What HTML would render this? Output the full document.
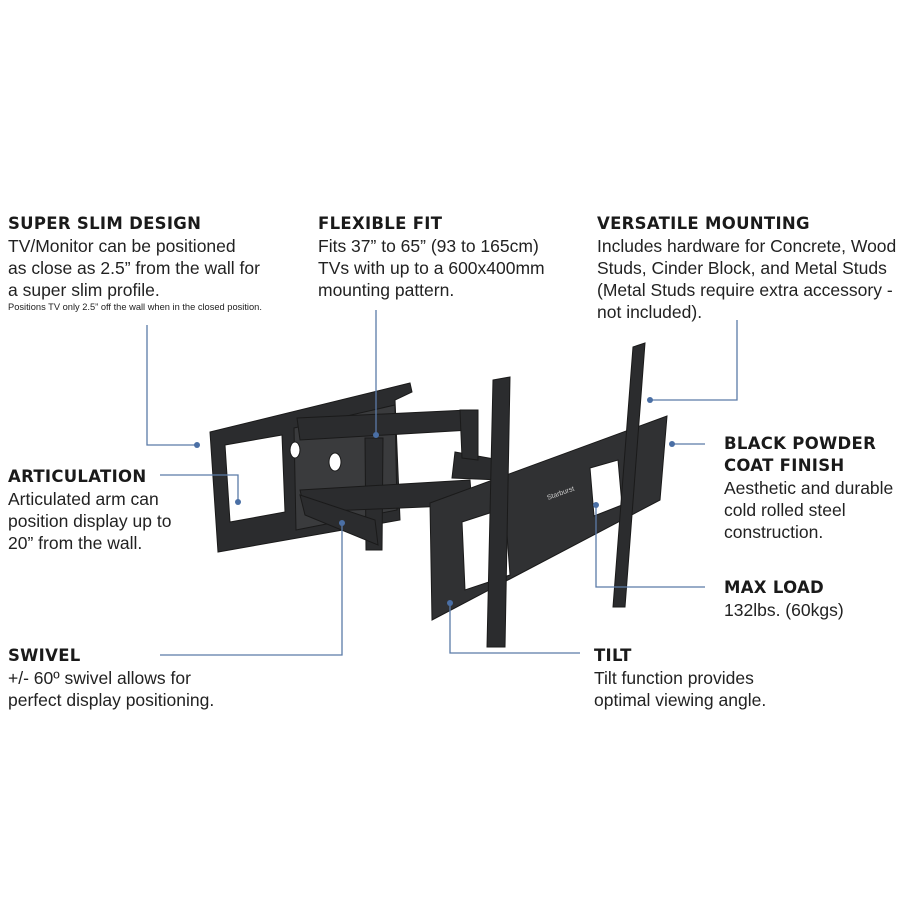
<!DOCTYPE html>
<html><head><meta charset="utf-8"><style>
body{margin:0;width:900px;height:900px;background:#fff;position:relative;overflow:hidden;font-family:"Liberation Sans",sans-serif;color:#222}
.b{position:absolute;font-size:17.5px;line-height:22px;white-space:nowrap}
.b h{display:block;font-family:"DejaVu Sans",sans-serif;font-weight:bold;font-size:16.5px;line-height:22px;color:#1a1a1a;letter-spacing:0.3px}
.s{font-size:9.3px;line-height:12px;display:block}
svg{position:absolute;left:0;top:0}
</style></head><body>
<svg width="900" height="900">
<g fill="#2b2c2e" stroke="#1a1a1a" stroke-width="1">
<polygon points="210,432 410,383 412,392 395,400 400,520 218,552"/>
<polygon points="225,445 282,435 285,512 230,522" fill="#fff"/>
<polygon points="294,428 395,405 397,510 296,530" fill="#3a3b3d"/>
<ellipse cx="295" cy="450" rx="5" ry="8" fill="#fff"/>
<ellipse cx="335" cy="462" rx="6" ry="9" fill="#fff"/>
<polygon points="297,418 468,410 470,430 300,440"/>
<polygon points="365,438 383,438 382,550 366,550"/>
<polygon points="300,490 470,480 472,505 305,512"/>
<polygon points="300,495 375,520 378,545 305,515"/>
<polygon points="455,452 500,460 500,480 452,478"/>
<polygon points="460,410 478,410 478,460 462,458"/>
<polygon points="430,503 667,416 660,500 432,620" fill="#303133"/>
<polygon points="462,522 505,508 510,575 465,590" fill="#fff"/>
<polygon points="590,468 618,460 622,505 594,516" fill="#fff"/>
<polygon points="493,380 510,377 505,647 487,647"/>
<polygon points="633,347 645,343 625,607 613,607"/>
</g>
<text x="548" y="500" font-size="7" fill="#ccc" transform="rotate(-20 548 500)">Starburst</text>
<g stroke="#5b7ba8" stroke-width="1.3" fill="none">
<polyline points="147,325 147,445 197,445"/>
<polyline points="160,475 238,475 238,502"/>
<polyline points="376,310 376,435"/>
<polyline points="737,320 737,400 650,400"/>
<polyline points="672,444 705,444"/>
<polyline points="596,505 596,587 705,587"/>
<polyline points="450,603 450,653 580,653"/>
<polyline points="342,523 342,655 160,655"/>
</g>
<g fill="#4a6fa5">
<circle cx="197" cy="445" r="3"/><circle cx="238" cy="502" r="3"/><circle cx="376" cy="435" r="3"/>
<circle cx="650" cy="400" r="3"/><circle cx="672" cy="444" r="3"/><circle cx="596" cy="505" r="3"/>
<circle cx="450" cy="603" r="3"/><circle cx="342" cy="523" r="3"/>
</g>
</svg>
<div class="b" style="left:8px;top:213px"><h>SUPER SLIM DESIGN</h>TV/Monitor can be positioned<br>as close as 2.5” from the wall for<br>a super slim profile.<span class="s">Positions TV only 2.5” off the wall when in the closed position.</span></div>
<div class="b" style="left:318px;top:213px"><h>FLEXIBLE FIT</h>Fits 37” to 65” (93 to 165cm)<br>TVs with up to a 600x400mm<br>mounting pattern.</div>
<div class="b" style="left:597px;top:213px"><h>VERSATILE MOUNTING</h>Includes hardware for Concrete, Wood<br>Studs, Cinder Block, and Metal Studs<br>(Metal Studs require extra accessory -<br>not included).</div>
<div class="b" style="left:8px;top:466px"><h>ARTICULATION</h>Articulated arm can<br>position display up to<br>20” from the wall.</div>
<div class="b" style="left:724px;top:433px"><h>BLACK POWDER<br>COAT FINISH</h>Aesthetic and durable<br>cold rolled steel<br>construction.</div>
<div class="b" style="left:724px;top:577px"><h>MAX LOAD</h>132lbs. (60kgs)</div>
<div class="b" style="left:8px;top:645px"><h>SWIVEL</h>+/- 60º swivel allows for<br>perfect display positioning.</div>
<div class="b" style="left:594px;top:645px"><h>TILT</h>Tilt function provides<br>optimal viewing angle.</div>
</body></html>
